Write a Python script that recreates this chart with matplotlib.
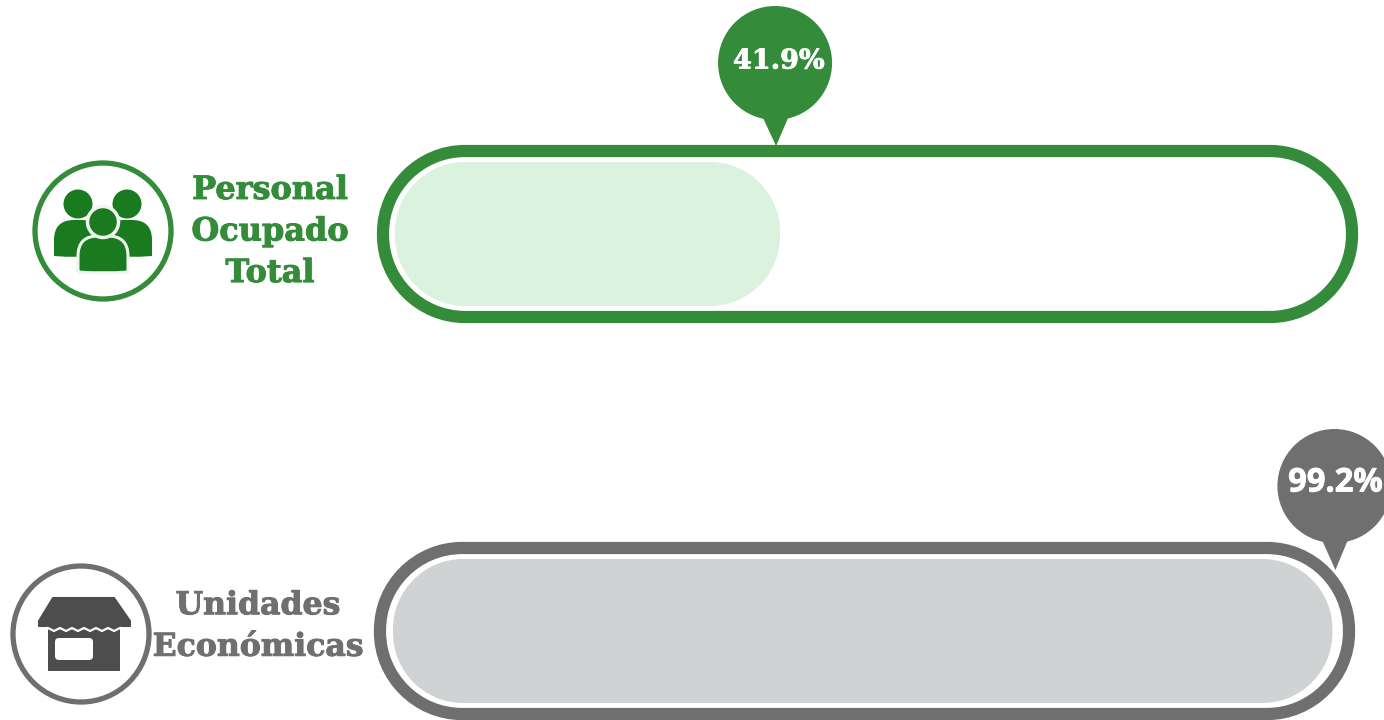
import matplotlib
matplotlib.use("Agg")
import matplotlib.pyplot as plt
import matplotlib.patheffects as pe
from matplotlib.patches import Circle, FancyBboxPatch, PathPatch, Polygon
from matplotlib.path import Path

# datos
indicadores = ["Personal\nOcupado\nTotal", "Unidades\nEconómicas"]
porcentajes = [41.9, 99.2]

VERDE = "#348c3a"
VERDE_CLARO = "#dbf2de"
VERDE_ICONO = "#1a7a1f"
GRIS = "#6f6f6f"
GRIS_CLARO = "#cfd3d4"
GRIS_ICONO = "#4d4d4d"

fig = plt.figure(figsize=(13.84, 7.2), dpi=100)
ax = fig.add_axes([0, 0, 1, 1])
ax.set_xlim(0, 1384)
ax.set_ylim(720, 0)
ax.axis("off")


def pildora(x, y, w, h, r, **kw):
    # rectangulo redondeado con esquinas de curva cubica
    k = 0.55 * r
    verts = [(x + r, y), (x + w - r, y),
             (x + w - r + k, y), (x + w, y + r - k), (x + w, y + r),
             (x + w, y + h - r),
             (x + w, y + h - r + k), (x + w - r + k, y + h), (x + w - r, y + h),
             (x + r, y + h),
             (x + r - k, y + h), (x, y + h - r + k), (x, y + h - r),
             (x, y + r),
             (x, y + r - k), (x + r - k, y), (x + r, y), (x + r, y)]
    codes = [Path.MOVETO, Path.LINETO] + [Path.CURVE4] * 3 + [Path.LINETO] + [Path.CURVE4] * 3 + \
            [Path.LINETO] + [Path.CURVE4] * 3 + [Path.LINETO] + [Path.CURVE4] * 3 + [Path.CLOSEPOLY]
    ax.add_patch(PathPatch(Path(verts, codes), **kw))


def barra(x0, y0, color, relleno, valor, esc, x_ini, off_pin, pin_y, punta, fuente):
    pildora(x0, y0, 969, 166, 82, fc="white", ec=color, lw=8.8)
    # relleno segun el porcentaje
    pildora(x_ini, y0 + 11, valor * esc, 144, 70, fc=relleno, ec="none")
    # globo con el valor
    tip = x_ini + valor * esc + off_pin
    ax.add_patch(Circle((tip - 1, pin_y), 57, fc=color, ec="none"))
    ax.add_patch(Polygon([(tip - 13, pin_y + 55), (tip + 12, pin_y + 55), (tip, punta)],
                         closed=True, fc=color, ec="none"))
    ax.text(tip - 1 + fuente[2], pin_y + fuente[3], f"{valor}%", color="white", ha="center", va="center",
            family=fuente[0], weight="bold", fontsize=fuente[1],
            path_effects=[pe.withStroke(linewidth=0.6, foreground="white")])


barra(383, 151, VERDE, VERDE_CLARO, porcentajes[0], 9.19, 395, -4, 63, 146, ("DejaVu Serif", 19.5, 4, -2))
barra(380, 548, GRIS, GRIS_CLARO, porcentajes[1], 9.47, 393, 3, 486, 570, ("Open Sans", 23.5, 1, -3))

# circulos de los iconos
ax.add_patch(Circle((103, 231), 68, fc="white", ec=VERDE, lw=3.8))
ax.add_patch(Circle((81, 634), 68, fc="white", ec=GRIS, lw=3.8))


def cuerpo(x1, x2, y1, y2, color, borde="none", lw=0):
    # torso con hombros curvos y base recta
    w = x2 - x1
    verts = [(x1, y2), (x1, y1 + 20), (x1, y1), (x1 + 20, y1), (x2 - 20, y1), (x2, y1), (x2, y1 + 20),
             (x2, y2), (x1 + w / 2, y2 + 2), (x1, y2)]
    codes = [Path.MOVETO, Path.LINETO, Path.CURVE3, Path.CURVE3, Path.LINETO, Path.CURVE3, Path.CURVE3,
             Path.LINETO, Path.CURVE3, Path.CURVE3]
    ax.add_patch(PathPatch(Path(verts, codes), fc=color, ec=borde, lw=lw))


# icono personas
cuerpo(54, 102, 220, 256, VERDE_ICONO)
cuerpo(104, 152, 220, 256, VERDE_ICONO)
ax.add_patch(Circle((78, 204), 14.5, fc=VERDE_ICONO, ec="none"))
ax.add_patch(Circle((127, 204), 14.5, fc=VERDE_ICONO, ec="none"))
cuerpo(78, 128, 236, 272, VERDE_ICONO, "#eef6ee", 2.2)
ax.add_patch(Circle((103, 222), 15.5, fc=VERDE_ICONO, ec="#eef6ee", lw=2.5))

# icono tienda
ax.add_patch(Polygon([(48, 626), (120, 626), (120, 671), (48, 671)], closed=True, fc=GRIS_ICONO, ec="none"))
ax.add_patch(Polygon([(53, 598), (114, 598), (130, 621), (130, 626), (39, 626), (39, 621)],
                     closed=True, fc=GRIS_ICONO, ec=GRIS_ICONO, lw=1.5, joinstyle="round"))
onda_x = [48, 54, 60, 66, 72, 78, 84, 90, 96, 102, 108, 114, 120]
onda_y = [628, 631, 628, 631, 628, 631, 628, 631, 628, 631, 628, 631, 628]
ax.plot(onda_x, onda_y, color="white", lw=1.6)
ax.add_patch(FancyBboxPatch((55, 638), 38, 22, boxstyle="round,pad=0,rounding_size=4", fc="white", ec="none"))

# etiquetas
grueso = [pe.withStroke(linewidth=0.7, foreground=VERDE)]
ax.text(270, 232, indicadores[0], color=VERDE, ha="center", va="center", family="DejaVu Serif",
        weight="bold", fontsize=23, linespacing=1.44, path_effects=grueso)
grueso = [pe.withStroke(linewidth=0.7, foreground=GRIS)]
ax.text(258, 626.5, indicadores[1], color=GRIS, ha="center", va="center", family="DejaVu Serif",
        weight="bold", fontsize=22.7, linespacing=1.44, path_effects=grueso)

fig.savefig("out.png", dpi=100, facecolor="white")
